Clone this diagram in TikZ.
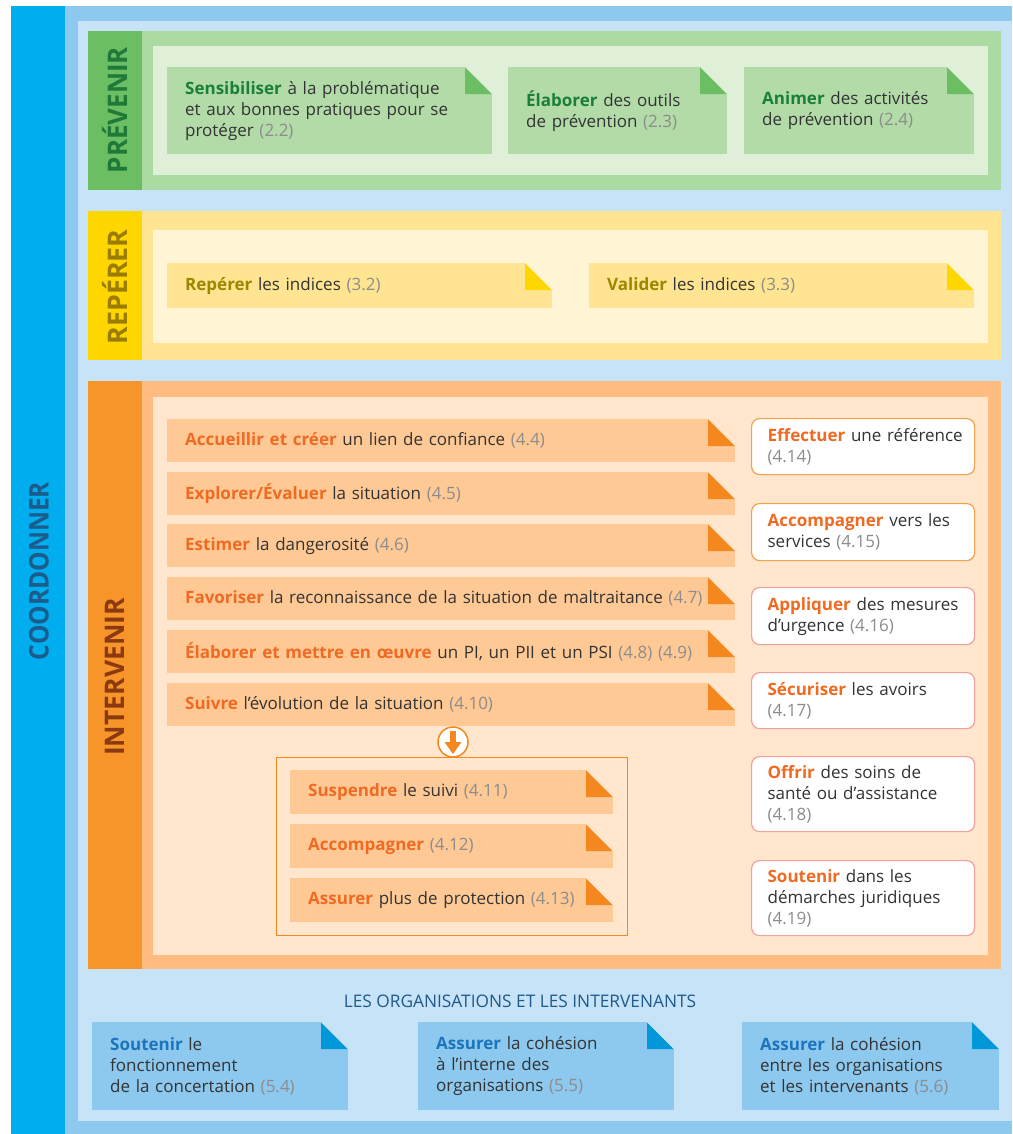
\documentclass[tikz,border=0pt]{standalone}
\usepackage{fontspec}
\usepackage{graphicx}
\setmainfont{Open Sans}

\definecolor{cyanC}{HTML}{00AEEF}
\definecolor{midB}{HTML}{8DC8EE}
\definecolor{paleB}{HTML}{C6E3F7}
\definecolor{blueEar}{HTML}{0098D8}
\definecolor{blueKey}{HTML}{1C75BC}
\definecolor{coordT}{HTML}{1B5C8A}
\definecolor{orgT}{HTML}{1F5A8A}
\definecolor{gCol}{HTML}{6BBF62}
\definecolor{gFrame}{HTML}{ACDAA3}
\definecolor{gIn}{HTML}{DFEFD8}
\definecolor{gCard}{HTML}{B2DBA8}
\definecolor{gKey}{HTML}{1A7F3A}
\definecolor{gT}{HTML}{1F7A3A}
\definecolor{yCol}{HTML}{FFD600}
\definecolor{yFrame}{HTML}{FFE591}
\definecolor{yIn}{HTML}{FFF5D4}
\definecolor{yCard}{HTML}{FFE591}
\definecolor{yKey}{HTML}{9C8700}
\definecolor{yT}{HTML}{9A7D00}
\definecolor{oCol}{HTML}{F7952A}
\definecolor{oFrame}{HTML}{FFBB80}
\definecolor{oIn}{HTML}{FFE6CC}
\definecolor{oCard}{HTML}{FFC996}
\definecolor{oEar}{HTML}{F5871F}
\definecolor{oKey}{HTML}{F06A22}
\definecolor{oT}{HTML}{8B3A10}
\definecolor{oLine}{HTML}{F7A04B}
\definecolor{pinkB}{HTML}{F3A09A}
\definecolor{numG}{HTML}{8C8C8C}
\definecolor{txt}{HTML}{333333}

\newcommand{\nb}[1]{{\color{numG}#1}}
\newcommand{\kw}[2]{{\bfseries\color{#1}#2}}
\newcommand{\bodyfont}{\fontsize{17}{21}\selectfont}
\newcommand{\titlefont}{\fontsize{27}{27}\selectfont\bfseries}

\tikzset{
  ear/.style 2 args={path picture={
    \coordinate (ne) at (path picture bounding box.north east);
    \fill[#1] ([xshift=-27pt]ne) -- ([xshift=-27pt,yshift=-27pt]ne) -- ([yshift=-27pt]ne) -- cycle;
    \fill[#2] ([xshift=-27pt]ne) -- (ne) -- ([yshift=-27pt]ne) -- cycle;
  }},
  card/.style n args={5}{fill=#1, ear={#2}{#3}, anchor=north west,
    inner xsep=18pt, inner ysep=0pt, text width=#4, minimum height=#5,
    align=left, text=txt, font=\bodyfont},
  rbox/.style 2 args={draw=#1, fill=white, rounded corners=8pt, line width=1.2pt,
    anchor=north west, inner xsep=16pt, inner ysep=0pt, text width=191pt,
    minimum height=#2, align=left, text=txt, font=\bodyfont},
  title/.style={rotate=90, font=\titlefont, inner sep=0pt},
}

\begin{document}
\begin{tikzpicture}[x=1pt,y=-1pt]
\useasboundingbox (0,0) rectangle (1012,1134);
\fill[white] (0,0) rectangle (1012,1134);
% frame
\fill[cyanC] (11,6) rectangle (65,1134);
\fill[midB] (65,6) rectangle (1012,1134);
\fill[paleB] (78,21) rectangle (1012,1121);
\node[title, text=coordT] (tcoord) at (39,571) {\scalebox{0.91}[1]{COORDONNER}};

% PREVENIR
\fill[gCol] (88,31) rectangle (142,190);
\fill[gFrame] (142,31) rectangle (1001,190);
\fill[gIn] (153,46) rectangle (988,175);
\node[title, text=gT] (tprev) at (115,110) {\scalebox{0.96}[1]{PRÉVENIR}};
\node[card={gCard}{gCol}{gIn}{289pt}{87pt}] (p1) at (167,67)
  {\kw{gKey}{Sensibiliser} à la problématique\\et aux bonnes pratiques pour se\\protéger \nb{(2.2)}};
\node[card={gCard}{gCol}{gIn}{183pt}{87pt}] (p2) at (508,67)
  {\kw{gKey}{Élaborer} des outils\\de prévention \nb{(2.3)}};
\node[card={gCard}{gCol}{gIn}{194pt}{87pt}] (p3) at (744,67)
  {\kw{gKey}{Animer} des activités\\de prévention \nb{(2.4)}};

% REPERER
\fill[yCol] (88,211) rectangle (142,360);
\fill[yFrame] (142,211) rectangle (1001,360);
\fill[yIn] (153,230) rectangle (988,343);
\node[title, text=yT] (trep) at (115,287) {\scalebox{0.99}[1]{REPÉRER}};
\node[card={yCard}{yCol}{yIn}{349pt}{45pt}] (r1) at (167,263)
  {\kw{yKey}{Repérer} les indices \nb{(3.2)}};
\node[card={yCard}{yCol}{yIn}{349pt}{45pt}] (r2) at (589,263)
  {\kw{yKey}{Valider} les indices \nb{(3.3)}};

% INTERVENIR
\fill[oCol] (88,381) rectangle (142,969);
\fill[oFrame] (142,381) rectangle (1001,969);
\fill[oIn] (153,397) rectangle (988,955);
\node[title, text=oT] (tint) at (115,677) {\scalebox{0.98}[1]{INTERVENIR}};

\tikzset{orow/.style={card={oCard}{oEar}{oIn}{532pt}{43pt}}}
\node[orow] (i1) at (167,419) {\kw{oKey}{Accueillir et créer} un lien de confiance \nb{(4.4)}};
\node[orow] (i2) at (167,472) {\kw{oKey}{Explorer/Évaluer} la situation \nb{(4.5)}};
\node[orow] (i3) at (167,524) {\kw{oKey}{Estimer} la dangerosité \nb{(4.6)}};
\node[orow] (i4) at (167,577) {\kw{oKey}{Favoriser} la reconnaissance de la situation de maltraitance \nb{(4.7)}};
\node[orow] (i5) at (167,630) {\kw{oKey}{Élaborer et mettre en œuvre} un PI, un PII et un PSI \nb{(4.8) (4.9)}};
\node[orow] (i6) at (167,683) {\kw{oKey}{Suivre} l'évolution de la situation \nb{(4.10)}};

\node[draw=oEar, line width=1.2pt, anchor=north west, inner sep=0pt,
  minimum width=351pt, minimum height=178pt] (sub) at (276,757) {};
\tikzset{srow/.style={card={oCard}{oEar}{oIn}{287pt}{44pt}}}
\node[srow] (s1) at (290,770) {\kw{oKey}{Suspendre} le suivi \nb{(4.11)}};
\node[srow] (s2) at (290,824) {\kw{oKey}{Accompagner} \nb{(4.12)}};
\node[srow] (s3) at (290,878) {\kw{oKey}{Assurer} plus de protection \nb{(4.13)}};

\node[circle, draw=oEar, fill=white, line width=1.5pt, minimum size=30pt, inner sep=0pt] (circ) at (453,742) {};
\fill[oEar] ([xshift=-2.6pt,yshift=11pt]circ.center) rectangle ([xshift=2.6pt,yshift=-1pt]circ.center);
\fill[oEar] ([xshift=-8.5pt,yshift=0pt]circ.center) -- ([xshift=8.5pt,yshift=0pt]circ.center) -- ([yshift=-12pt]circ.center) -- cycle;

\node[rbox={oLine}{56pt}] (e1) at (751,418) {\mbox{\kw{oKey}{Effectuer} une référence}\\\nb{(4.14)}};
\node[rbox={oLine}{57pt}] (e2) at (751,503) {\mbox{\kw{oKey}{Accompagner} vers les}\\services \nb{(4.15)}};
\node[rbox={pinkB}{57pt}] (e3) at (751,587) {\mbox{\kw{oKey}{Appliquer} des mesures}\\d’urgence \nb{(4.16)}};
\node[rbox={pinkB}{56pt}] (e4) at (751,672) {\kw{oKey}{Sécuriser} les avoirs\\\nb{(4.17)}};
\node[rbox={pinkB}{75pt}] (e5) at (751,756) {\kw{oKey}{Offrir} des soins de\\santé ou d’assistance\\\nb{(4.18)}};
\node[rbox={pinkB}{75pt}] (e6) at (751,860) {\kw{oKey}{Soutenir} dans les\\démarches juridiques\\\nb{(4.19)}};

% ORGANISATIONS
\node[text=orgT, font=\fontsize{17.3}{17.3}\selectfont, inner sep=0pt] (torg) at (520,1001)
  {LES ORGANISATIONS ET LES INTERVENANTS};
\tikzset{bcard/.style={card={midB}{blueEar}{paleB}{220pt}{88pt}}}
\node[bcard] (b1) at (92,1022) {\kw{blueKey}{Soutenir} le\\fonctionnement\\de la concertation \nb{(5.4)}};
\node[bcard] (b2) at (418,1022) {\kw{blueKey}{Assurer} la cohésion\\à l’interne des\\organisations \nb{(5.5)}};
\node[card={midB}{blueEar}{paleB}{221pt}{88pt}] (b3) at (742,1022) {\kw{blueKey}{Assurer} la cohésion\\entre les organisations\\et les intervenants \nb{(5.6)}};
\end{tikzpicture}
\end{document}
